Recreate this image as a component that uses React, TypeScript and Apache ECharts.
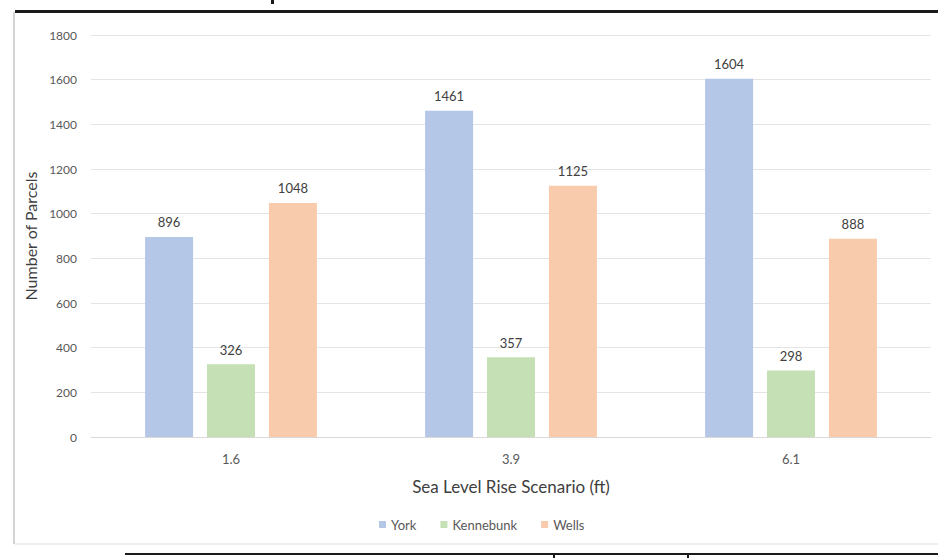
import React, { useEffect, useRef } from "react";
import * as echarts from "echarts";

const categories = ["1.6", "3.9", "6.1"];
const york = [896, 1461, 1604];
const kennebunk = [326, 357, 298];
const wells = [1048, 1125, 888];
const seriesNames = ["York", "Kennebunk", "Wells"];
const colors = ["#B4C7E7", "#C5E0B4", "#F8CBAD"];

const FONT = "Lato, 'Open Sans', sans-serif";

export default function App() {
  const ref = useRef<HTMLDivElement>(null);
  useEffect(() => {
    document.body.style.margin = "0";
    const chart = echarts.init(ref.current!, null, { renderer: "svg" });
    const mk = (name: string, data: number[], color: string) => ({
      name,
      type: "bar",
      data,
      barWidth: 48,
      barGap: "29%",
      itemStyle: { color },
      label: {
        show: true,
        position: "top",
        distance: 8,
        color: "#404040",
        fontSize: 13,
        fontFamily: FONT,
      },
    });
    chart.setOption({
      animation: false,
      backgroundColor: "#ffffff",
      textStyle: { fontFamily: FONT },
      grid: { left: 91, right: 7, top: 35, bottom: 121, containLabel: false },
      legend: {
        left: 374,
        top: 513,
        icon: "rect",
        itemWidth: 7,
        itemHeight: 7,
        itemGap: 24,
        textStyle: { color: "#595959", fontSize: 13, fontFamily: FONT },
        data: seriesNames,
      },
      xAxis: {
        type: "category",
        data: categories,
        axisTick: { show: false },
        axisLine: { show: true, lineStyle: { color: "#d9d9d9" } },
        axisLabel: { color: "#595959", fontSize: 13, margin: 15, fontFamily: FONT },
        name: "Sea Level Rise Scenario (ft)",
        nameLocation: "middle",
        nameGap: 41,
        nameTextStyle: { color: "#404040", fontSize: 17, fontFamily: FONT },
      },
      yAxis: {
        type: "value",
        min: 0,
        max: 1800,
        interval: 200,
        axisLine: { show: false },
        axisTick: { show: false },
        splitLine: { lineStyle: { color: "#e4e4e4" } },
        axisLabel: {
          color: "#595959",
          fontSize: 12,
          margin: 14,
          fontFamily: FONT,
          formatter: (v: number) => String(v),
        },
        name: "Number of Parcels",
        nameLocation: "middle",
        nameGap: 51,
        nameTextStyle: { color: "#404040", fontSize: 16, fontFamily: FONT },
      },
      graphic: [
        { type: "rect", shape: { x: 13, y: 12, width: 2, height: 532 }, style: { fill: "#d4d4d4" } },
        { type: "rect", shape: { x: 15, y: 10, width: 923, height: 3 }, style: { fill: "#1a1a1a" } },
        { type: "rect", shape: { x: 271, y: 0, width: 3, height: 4 }, style: { fill: "#1a1a1a" } },
        { type: "rect", shape: { x: 15, y: 543, width: 923, height: 2 }, style: { fill: "#eeeeee" } },
        { type: "rect", shape: { x: 125, y: 553, width: 813, height: 2 }, style: { fill: "#1a1a1a" } },
        { type: "rect", shape: { x: 553, y: 553, width: 2, height: 5 }, style: { fill: "#1a1a1a" } },
        { type: "rect", shape: { x: 687, y: 553, width: 2, height: 5 }, style: { fill: "#1a1a1a" } },
      ],
      series: [
        mk(seriesNames[0], york, colors[0]),
        mk(seriesNames[1], kennebunk, colors[1]),
        mk(seriesNames[2], wells, colors[2]),
      ],
    });
    return () => chart.dispose();
  }, []);
  return (
    <div
      ref={ref}
      style={{ position: "absolute", left: 0, top: 0, width: 938, height: 558 }}
    />
  );
}
